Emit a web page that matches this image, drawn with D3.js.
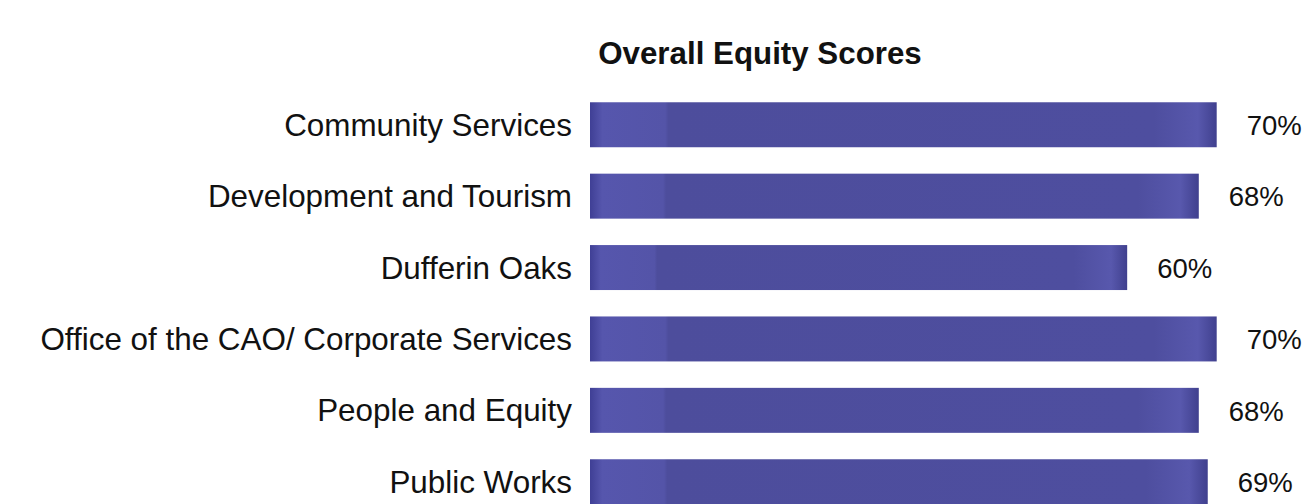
<!DOCTYPE html>
<html>
<head>
<meta charset="utf-8">
<script src="https://cdn.jsdelivr.net/npm/d3@7"></script>
<style>
  html, body { margin: 0; padding: 0; background: #ffffff; }
  svg { display: block; }
  text { font-family: "Liberation Sans", Arial, sans-serif; fill: #111; }
</style>
</head>
<body>
<svg id="chart" width="1305" height="504"></svg>
<script>
const categories = [
  "Community Services",
  "Development and Tourism",
  "Dufferin Oaks",
  "Office of the CAO/ Corporate Services",
  "People and Equity",
  "Public Works"
];
const scores = [70, 68, 60, 70, 68, 69];
const title = "Overall Equity Scores";

const svg = d3.select("#chart");

const x = d3.scaleLinear().domain([0, 70]).range([590, 1216.7]);
const y = d3.scaleBand().domain(categories).range([88.7, 517.8]).paddingInner(0.37).paddingOuter(0.19);

const defs = svg.append("defs");
const grad = defs.append("linearGradient").attr("id", "barGrad")
  .attr("x1", "0").attr("x2", "1").attr("y1", "0").attr("y2", "0");
grad.append("stop").attr("offset", "0").attr("stop-color", "#3f3f95");
grad.append("stop").attr("offset", "0.02").attr("stop-color", "#5656ad");
grad.append("stop").attr("offset", "0.12").attr("stop-color", "#5454a8");
grad.append("stop").attr("offset", "0.125").attr("stop-color", "#4d4d9c");
grad.append("stop").attr("offset", "0.9").attr("stop-color", "#4e4e9f");
grad.append("stop").attr("offset", "0.97").attr("stop-color", "#5858ad");
grad.append("stop").attr("offset", "1").attr("stop-color", "#40408e");

svg.append("text")
  .attr("x", 760).attr("y", 64)
  .attr("text-anchor", "middle")
  .attr("font-size", 31.3).attr("font-weight", "bold")
  .text(title);

const rows = svg.selectAll("g.row").data(categories).enter().append("g").attr("class", "row");

rows.append("rect")
  .attr("x", x(0))
  .attr("y", d => y(d))
  .attr("height", y.bandwidth())
  .attr("width", (d, i) => x(scores[i]) - x(0))
  .attr("fill", "url(#barGrad)");

rows.append("text")
  .attr("x", x(0) - 18)
  .attr("y", d => y(d) + y.bandwidth() / 2)
  .attr("dy", "0.35em")
  .attr("text-anchor", "end")
  .attr("font-size", 31.4)
  .text(d => d);

rows.append("text")
  .attr("x", (d, i) => x(scores[i]) + 30)
  .attr("y", d => y(d) + y.bandwidth() / 2)
  .attr("dy", "0.37em")
  .attr("font-size", 27.5)
  .text((d, i) => scores[i] + "%");
</script>
</body>
</html>
